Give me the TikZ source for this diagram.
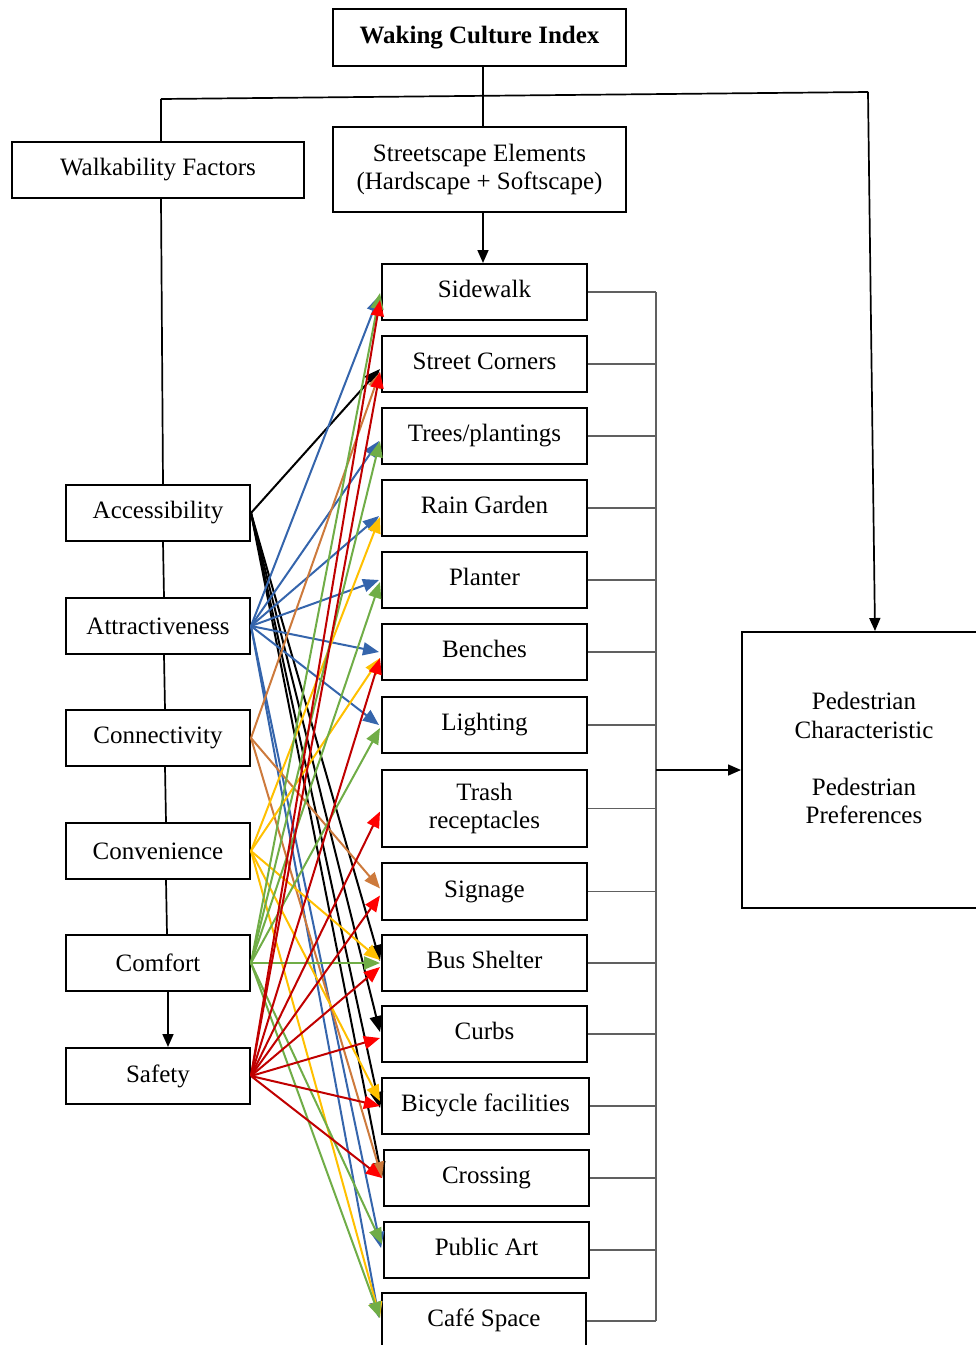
\documentclass[tikz,border=0pt]{standalone}
\usepackage{fontspec}
\setmainfont{Liberation Serif}
\usetikzlibrary{arrows.meta,calc}
\definecolor{cblue}{HTML}{3565AC}
\definecolor{corange}{HTML}{CD7A3C}
\definecolor{cyellow}{HTML}{FFC000}
\definecolor{cgreen}{HTML}{70AD47}
\definecolor{cred}{HTML}{C00000}
\definecolor{cgray}{HTML}{606060}
\begin{document}
\begin{tikzpicture}[x=1pt,y=-1pt,
  box/.style={draw,line width=2pt,inner sep=0pt,align=center,font=\fontsize{25}{28.5}\selectfont},
  elem/.style={box,minimum width=205pt,minimum height=56pt,text height=17pt,text depth=6pt},
  fac/.style={box,minimum width=184pt,minimum height=56pt},
  struct/.style={line width=1.7pt},
  stip/.style={-{Triangle[length=13pt,width=11pt]}},
  ctip/.style={line width=2pt,-{Triangle[length=16pt,width=13pt]}},
  kline/.style={ctip,black},
  bline/.style={ctip,cblue},
  oline/.style={ctip,corange},
  yline/.style={ctip,cyellow},
  gline/.style={ctip,cgreen},
  rline/.style={line width=2pt,cred,-{Triangle[length=16pt,width=13pt,color=red]}},
  busline/.style={line width=1.3pt,cgray}
]
\useasboundingbox (0,0) rectangle (976,1345);
\clip (0,0) rectangle (976,1345);

% top boxes
\node[box,minimum width=293pt,minimum height=57pt,font=\fontsize{25}{28.5}\selectfont\bfseries] (title) at (479.5,37.5) {Waking Culture Index};
\node[box,minimum width=293pt,minimum height=85pt] (street) at (479.5,169.5) {Streetscape Elements\\(Hardscape + Softscape)};
\node[box,minimum width=292pt,minimum height=56pt] (walk) at (158,170) {Walkability Factors};
\node[box,minimum width=240pt,minimum height=276pt] (ped) at (862,770) {};
\node[align=center,inner sep=0pt,font=\fontsize{25}{28.5}\selectfont] (pedtxt) at (864,758) {Pedestrian\\Characteristic\\[28.5pt]Pedestrian\\Preferences};

% factors
\node[fac] (access)  at (158,513) {Accessibility};
\node[fac] (attract) at (158,626) {Attractiveness};
\node[fac] (connect) at (158,738) {Connectivity};
\node[fac] (conven)  at (158,851) {Convenience};
\node[fac] (comfort) at (158,963) {Comfort};
\node[fac] (safety)  at (158,1076) {Safety};

% elements
\node[elem] (sidewalk) at (484.5,292) {Sidewalk};
\node[elem] (corners)  at (484.5,364) {Street Corners};
\node[elem] (trees)    at (484.5,436) {Trees/plantings};
\node[elem] (rain)     at (484.5,508) {Rain Garden};
\node[elem] (planter)  at (484.5,580) {Planter};
\node[elem] (benches)  at (484.5,652) {Benches};
\node[elem] (lighting) at (484.5,725) {Lighting};
\node[box,minimum width=205pt,minimum height=77pt] (trash) at (484.5,808.5) {Trash\\receptacles};
\node[elem,minimum height=57pt] (signage) at (484.5,891.5) {Signage};
\node[elem] (bus)      at (484.5,963) {Bus Shelter};
\node[elem] (curbs)    at (484.5,1034) {Curbs};
\node[elem,minimum width=207pt] (bike) at (485.5,1106) {Bicycle facilities};
\node[elem] (crossing) at (486.5,1178) {Crossing};
\node[elem] (publicart) at (486.5,1250) {Public Art};
\node[elem,minimum width=204pt] (cafe) at (484,1321) {Café Space};

% structure lines
\coordinate (hl) at (161,99);
\coordinate (hr) at (868,92);
\draw[struct] (hl) -- (hr);
\draw[struct] (hl) -- (walk.north -| hl);
\draw[struct] (title.south -| 483,0) -- (street.north -| 483,0);
\draw[struct,stip] (hr) -- ($(ped.north)+(13,0)$);
\draw[struct,stip] (street.south -| 483,0) -- (sidewalk.north -| 483,0);
\draw[struct] ($(walk.south)+(3,0)$) -- ($(access.north)+(5,0)$);
\draw[struct] ($(access.south)+(5,0)$) -- ($(attract.north)+(6,0)$);
\draw[struct] ($(attract.south)+(6,0)$) -- ($(connect.north)+(7,0)$);
\draw[struct] ($(connect.south)+(7,0)$) -- ($(conven.north)+(8,0)$);
\draw[struct] ($(conven.south)+(8,0)$) -- ($(comfort.north)+(9,0)$);
\draw[struct,stip] ($(comfort.south)+(10,0)$) -- ($(safety.north)+(10,0)$);

% bus to pedestrian box
\coordinate (bx) at (656,0);
\foreach \e in {sidewalk,corners,trees,rain,planter,benches,lighting,trash,signage,bus,curbs,bike,crossing,publicart,cafe}
  \draw[busline] (\e.east) -- (\e.east -| bx);
\draw[busline] (sidewalk.east -| bx) -- (cafe.east -| bx);
\draw[line width=1.5pt,stip] (ped.west -| bx) -- (ped.west);

% colored connectors
\foreach \t/\d in {corners/5,bus/-2,curbs/-2,bike/2,crossing/0}
  \draw[kline] (access.east) -- ($(\t.west)+(-1,\d)$);
\foreach \t/\d in {sidewalk/4,trees/5,rain/8,planter/0,benches/0,lighting/0,publicart/-2,cafe/-3}
  \draw[bline] (attract.east) -- ($(\t.west)+(-2,\d)$);
\foreach \t/\d in {corners/8,signage/-3,crossing/0}
  \draw[oline] (connect.east) -- ($(\t.west)+(-1,\d)$);
\foreach \t/\d in {rain/9,benches/6,bus/-3,bike/-5,cafe/-3}
  \draw[yline] (conven.east) -- ($(\t.west)+(-1,\d)$);
\foreach \t/\d in {sidewalk/1,trees/5,planter/2,lighting/3,bus/0,publicart/-6,cafe/-3}
  \draw[gline] (comfort.east) -- ($(\t.west)+(-1,\d)$);
\foreach \t/\d in {sidewalk/8,corners/8,benches/6,trash/3,signage/4,bus/4,curbs/4,bike/0,crossing/0}
  \draw[rline] (safety.east) -- ($(\t.west)+(-1,\d)$);
\end{tikzpicture}
\end{document}
